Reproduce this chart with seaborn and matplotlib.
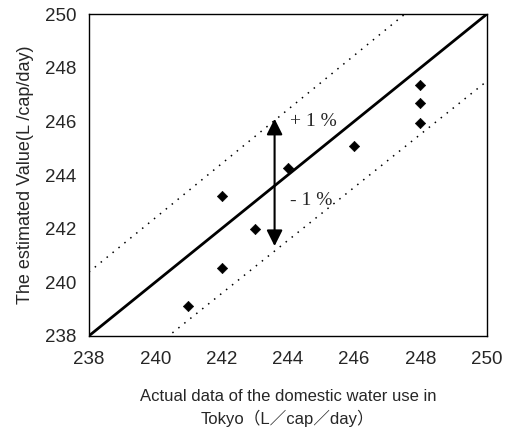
import matplotlib
matplotlib.use("Agg")
import matplotlib.pyplot as plt
import numpy as np
import pandas as pd
import seaborn as sns

# observed vs estimated values
actual = [241, 242, 242, 243, 244, 246, 248, 248, 248]
estimated = [239.1, 243.2, 240.55, 242.0, 244.25, 245.1, 247.35, 246.7, 245.95]
ticks = [238, 240, 242, 244, 246, 248, 250]

df = pd.DataFrame({"actual": actual, "estimated": estimated})

sns.set_style("white")
plt.rcParams['font.family'] = ['Liberation Sans', 'Noto Sans CJK JP', 'DejaVu Sans']

fig, ax = plt.subplots(figsize=(5.05, 4.29), dpi=100)

xs = np.array([238, 250])
ax.plot(xs, xs, color="black", lw=2)
ax.plot(xs, xs * 1.01, color="black", lw=1.1, ls=(0, (1, 4)))
ax.plot(xs, xs * 0.99, color="black", lw=1.1, ls=(0, (1, 4)))

sns.scatterplot(data=df, x="actual", y="estimated", marker="D", color="black",
                s=28, edgecolor="black", ax=ax, zorder=5)

ax.annotate("", xy=(243.6, 246.1), xytext=(243.6, 241.35),
            arrowprops=dict(arrowstyle="<|-|>", color="black", lw=1.5,
                            mutation_scale=24, shrinkA=0, shrinkB=0))
ax.text(244.05, 246.0, "+ 1 %", fontsize=14, family=["Liberation Serif"], va="center")
ax.text(244.05, 243.05, "- 1 %", fontsize=14, family=["Liberation Serif"], va="center")

ax.set_xlim(238, 250)
ax.set_ylim(238, 250)
ax.set_xticks(ticks)
ax.set_yticks(ticks)
ax.tick_params(direction="in", length=5, labelsize=13.5)
ax.tick_params(axis="x", pad=11)
ax.tick_params(axis="y", pad=9)
for s in ax.spines.values():
    s.set_color("black")
    s.set_linewidth(1)

ax.set_xlabel("Actual data of the domestic water use in\nTokyo（L／cap／day）", fontsize=12,
              labelpad=15, linespacing=1.4)
ax.set_ylabel("The estimated Value(L /cap/day)", fontsize=13, labelpad=8)

plt.subplots_adjust(left=0.176, right=0.964, top=0.967, bottom=0.217)
plt.savefig("out.png", dpi=100)
